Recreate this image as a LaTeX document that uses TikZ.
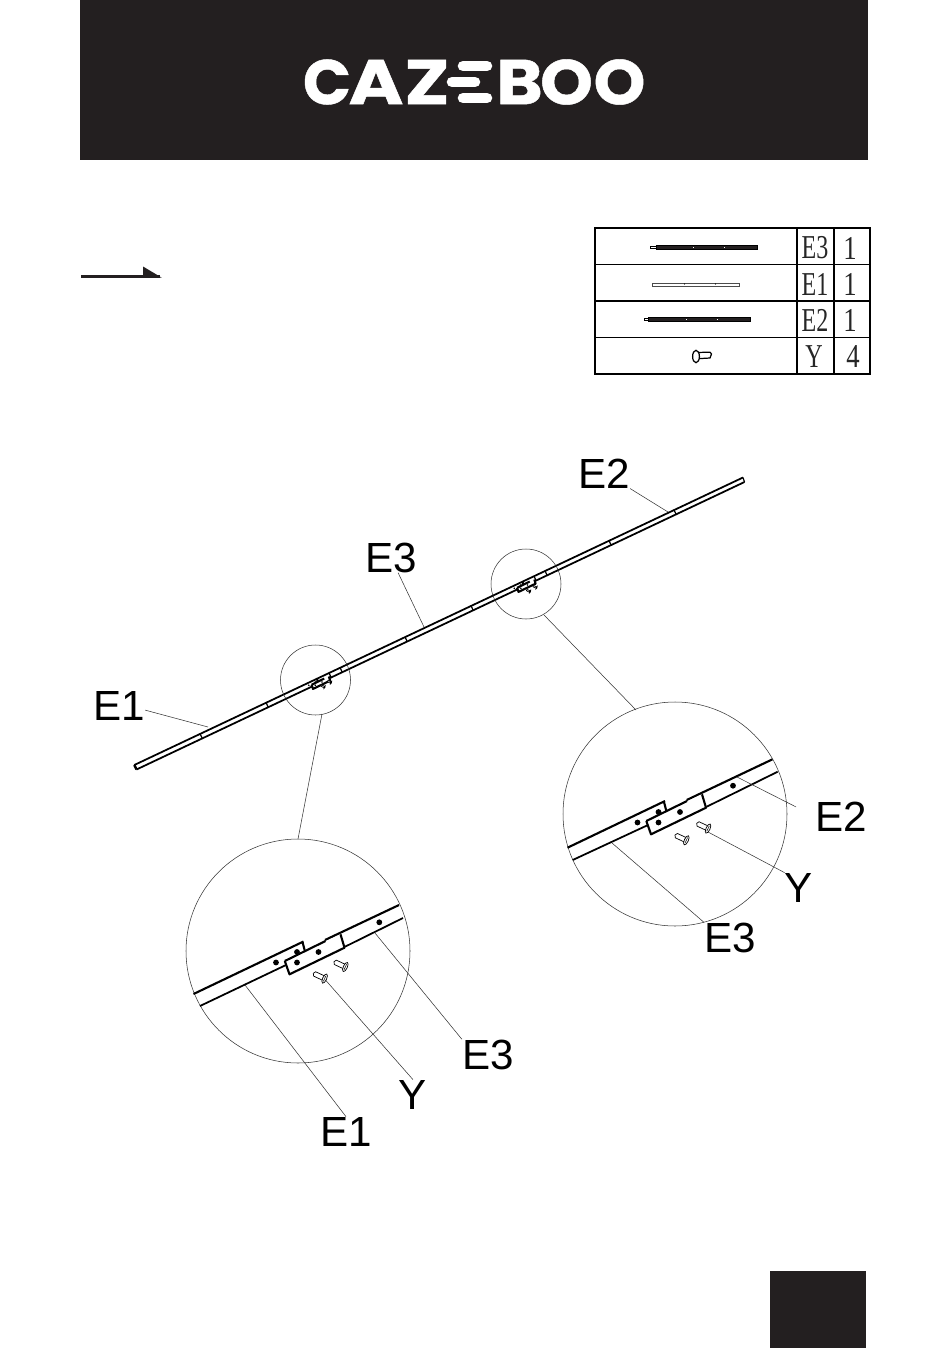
\documentclass[tikz,border=0pt]{standalone}
\usepackage{fontspec}
\setmainfont{Liberation Sans}
\newfontfamily\logofont[FakeBold=0.7]{Poppins Bold}
\newfontfamily\tablefont{Liberation Serif}
\definecolor{K}{RGB}{35, 31, 32}
\tikzset{
  thinline/.style={line width=0.3pt, color=black!80},
  railedge/.style={line width=1.2pt, color=black},
  lowedge/.style={line width=1pt, color=black},
  railtick/.style={line width=0.7pt, color=black},
  callout/.style={font=\fontsize{24}{24}\selectfont, inner sep=0pt},
  logoletter/.style={font=\logofont\fontsize{36}{36}\selectfont, color=white, inner sep=0pt},
  logobar/.style={line width=6pt, line cap=round, color=white},
  cellbox/.style={line width=0.6pt},
  celltext/.style={font=\tablefont\fontsize{19}{19}\selectfont, inner sep=0pt, color=black!85},
  pics/railjoint/.style={code={
    %Placa y pestana
    \draw[railedge] (5,-10) -- (7.5,-0.5);
    \draw[railedge, fill=white, line join=round] (-12.7,9) -- (-8,22.3) -- (47,-4.3) -- (43,-17.7);
    \draw[railedge] (-12.7,9) -- (28,-11);
    %Agujeros
    \fill (-21.5,10.5) circle (2.9);
    \fill (-0.5,0) circle (2.9);
    \fill (21,0) circle (2.9);
    \fill (-0.5,10.5) circle (2.9);
  }},
  pics/railscrew/.style={code={
    \draw[line width=0.4pt, fill=white, rotate=-25] (11,-2.4) -- (1.5,-2.4) -- (0,0) -- (1.5,2.4) -- (11,2.4);
    \draw[line width=0.4pt, fill=white, rotate=-25] (12.5,0) ellipse (2 and 5);
    \draw[line width=0.3pt, rotate=-25] (12.5,-3) -- (12.5,3);
  }}
}
\begin{document}
\begin{tikzpicture}[x=0.02cm, y=-0.02cm]
  \useasboundingbox (0,0) rectangle (950,1348);
  \fill[white] (0,0) rectangle (950,1348);

  %Cabecera y logo
  \fill[K] (80,0) rectangle (868,160);
  \node[logoletter] (logoC) at (327,82) {C};
  \node[logoletter] (logoA) at (376,82) {\scalebox{1.18}[1]{A}};
  \node[logoletter] (logoZ) at (427,82) {\scalebox{1.2}[1]{Z}};
  \node[logoletter] (logoB) at (519.5,82) {\scalebox{1.12}[1]{B}};
  \node[logoletter] (logoO) at (566.5,82) {\scalebox{1.06}[1]{O}};
  \node[logoletter] (logoOO) at (619.5,82) {\scalebox{1.04}[1]{O}};
  \draw[logobar] (463,66) -- (487,66);
  \draw[logobar] (452,82) -- (475,82);
  \draw[logobar] (463,98) -- (487,98);

  %Flecha
  \draw[line width=1.4pt, color=K] (81,276.5) -- (160,276.5);
  \fill[K] (143,266.5) -- (161.5,277.5) -- (143,277.5) -- cycle;

  %Cuadro de la pagina
  \fill[K] (770,1271) rectangle (866,1348);

  %Tabla
  \draw[cellbox] (595,228) rectangle (870,374);
  \draw[cellbox] (595,264.5) -- (870,264.5);
  \draw[cellbox] (595,301) -- (870,301);
  \draw[cellbox] (595,337.5) -- (870,337.5);
  \draw[cellbox] (797,228) -- (797,374);
  \draw[cellbox] (834,228) -- (834,374);
  \node[celltext] (codeA) at (815,248) {\scalebox{.72}[1]{E3}};
  \node[celltext] (codeB) at (815,284) {\scalebox{.72}[1]{E1}};
  \node[celltext] (codeC) at (815,320.5) {\scalebox{.72}[1]{E2}};
  \node[celltext] (codeD) at (814,356.5) {\scalebox{.72}[1]{Y}};
  \node[celltext] (numA) at (850,248) {\scalebox{.8}[1]{1}};
  \node[celltext] (numB) at (850,284) {\scalebox{.8}[1]{1}};
  \node[celltext] (numC) at (850,320.5) {\scalebox{.8}[1]{1}};
  \node[celltext] (numD) at (853,356.5) {\scalebox{.8}[1]{4}};

  %Piezas de la tabla
  \draw[line width=0.3pt] (650,246) rectangle (656,248.5);
  \draw[line width=0.5pt, fill=K] (656,245.5) rectangle (757.5,249);
  \fill[white] (693,246.5) rectangle (694,247.5);
  \fill[white] (724,246.5) rectangle (725,247.5);
  \draw[line width=0.3pt, color=black!70] (652.5,283) rectangle (739.5,286.5);
  \fill (684.5,284) circle (0.6);
  \fill (715.5,284) circle (0.6);
  \draw[line width=0.3pt] (644,318) rectangle (648,320);
  \draw[line width=0.5pt, fill=K] (648,317.5) rectangle (750.5,321);
  \fill[white] (686,318.5) rectangle (687,319.5);
  \fill[white] (717,318.5) rectangle (718,319.5);
  \draw[line width=0.7pt] (696,352.5) -- (710,352.2) -- (711.5,354) -- (710,358) -- (696,358.8);
  \draw[line width=0.7pt, fill=white] (696,356.5) ellipse (3.4 and 6.2);

  %Riel completo
  \draw[lowedge] (134.3,765) -- (743,477.5);
  \draw[lowedge] (136.5,769.5) -- (744.5,482);
  \draw[line width=1.4pt] (134.3,765) -- (136.5,769.5);
  \draw[railtick] (743,477.5) -- (744.5,482);
  \draw[railtick] (200,733.5) -- (202,737.9);
  \draw[railtick] (266,702.4) -- (268,706.8);
  \draw[railtick] (329,672.8) -- (331,677.2);
  \draw[railtick] (340,667.4) -- (342,671.8);
  \draw[railtick] (405,636.8) -- (407,641.2);
  \draw[railtick] (471,605.6) -- (473,610);
  \draw[railtick] (534,576) -- (536,580.4);
  \draw[railtick] (545,570.7) -- (547,575.1);
  \draw[railtick] (609,540.5) -- (611,544.9);
  \draw[railtick] (674,509.8) -- (676,514.2);

  %Uniones del riel
  \pic[scale=0.31] at (315.5,682) {railjoint};
  \pic[scale=0.31] at (321,685.5) {railscrew};
  \pic[scale=0.31] at (327.5,681) {railscrew};
  \pic[scale=0.31] at (521,585) {railjoint};
  \pic[scale=0.31] at (526.5,590) {railscrew};
  \pic[scale=0.31] at (533,586) {railscrew};

  %Circulos
  \draw[thinline] (315.5,680) circle (35);
  \draw[thinline] (526,584) circle (35);
  \draw[thinline] (298,951) circle (112);
  \draw[thinline] (675,814) circle (112);
  \coordinate (smallA) at (322,714);
  \coordinate (bigA) at (298,839);
  \coordinate (smallB) at (544,615);
  \coordinate (bigB) at (636,710);
  \draw[thinline] (smallA) -- (bigA);
  \draw[thinline] (smallB) -- (bigB);

  %Detalle izquierdo
  \draw[railedge] (193.5,994) -- (303.5,941.5);
  \draw[railedge] (325,940) -- (399,905);
  \draw[lowedge] (200,1006) -- (286,965);
  \draw[lowedge] (345,946.7) -- (403,918);
  \pic at (297.5,952) {railjoint};
  \fill (379.3,922.3) circle (2.9);
  \pic at (334,961.7) {railscrew};
  \pic at (313.3,973.3) {railscrew};

  %Detalle derecho
  \draw[railedge] (567.5,847.7) -- (665,801);
  \draw[railedge] (686.7,800) -- (772.5,759.3);
  \draw[lowedge] (572.7,860) -- (648,825);
  \draw[lowedge] (706.7,806.7) -- (777.7,771.7);
  \pic at (659,812) {railjoint};
  \fill (733,785.7) circle (2.9);
  \pic at (696.7,823.3) {railscrew};
  \pic at (675,835) {railscrew};

  %Etiquetas
  \node[callout] (labelEone) at (119,705.5) {E1};
  \node[callout] (labelEthree) at (391,557.5) {E3};
  \node[callout] (labelEtwo) at (604,473.5) {E2};
  \node[callout] (labelAone) at (346,1131.5) {E1};
  \node[callout] (labelAy) at (413,1094.5) {Y};
  \node[callout] (labelAthree) at (488,1054.5) {E3};
  \node[callout] (labelBtwo) at (841,816.5) {E2};
  \node[callout] (labelBy) at (799,887.5) {Y};
  \node[callout] (labelBthree) at (730,937.5) {E3};

  %Lineas de referencia
  \coordinate (railEone) at (208,727);
  \coordinate (railEthree) at (424,627);
  \coordinate (railEtwo) at (668,512);
  \coordinate (railAone) at (245,985);
  \coordinate (railAy) at (325.5,980);
  \coordinate (railAthree) at (375,933);
  \coordinate (railBtwo) at (737,777);
  \coordinate (railBy) at (708,832);
  \coordinate (railBthree) at (612,843);
  \draw[thinline] (labelEone.-10) -- (railEone);
  \draw[thinline] (labelEthree.-65) -- (railEthree);
  \draw[thinline] (labelEtwo.south east) -- (railEtwo);
  \draw[thinline] (labelAone.north) -- (railAone);
  \draw[thinline] (labelAy.north) -- (railAy);
  \draw[thinline] (labelAthree.north west) -- (railAthree);
  \draw[thinline, shorten <=12pt] (labelBtwo.west) -- (railBtwo);
  \draw[thinline] (labelBy.north west) -- (railBy);
  \draw[thinline] (labelBthree.north west) -- (railBthree);
\end{tikzpicture}
\end{document}
